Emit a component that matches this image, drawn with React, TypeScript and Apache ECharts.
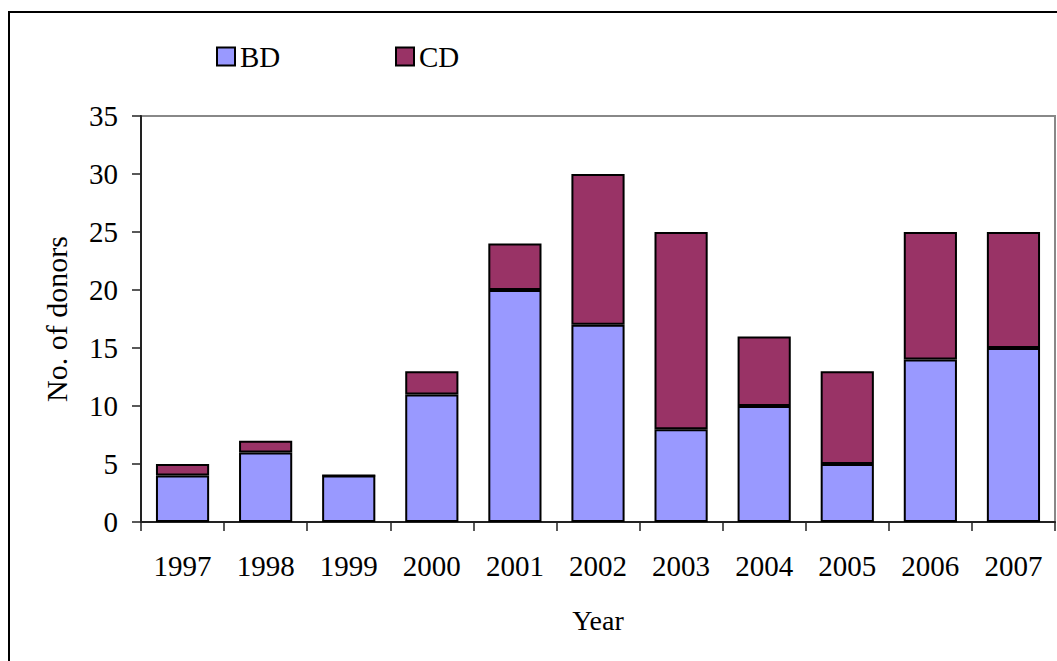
import React, { useEffect, useRef } from "react";
import * as echarts from "echarts";

const years = ["1997", "1998", "1999", "2000", "2001", "2002", "2003", "2004", "2005", "2006", "2007"];
const bdValues = [4, 6, 4, 11, 20, 17, 8, 10, 5, 14, 15];
const cdValues = [1, 1, 0, 2, 4, 13, 17, 6, 8, 11, 10];
const yTicks = { min: 0, max: 35, interval: 5 };

const FONT = "Liberation Serif";

export default function App() {
  const ref = useRef<HTMLDivElement>(null);
  useEffect(() => {
    if (!ref.current) return;
    const chart = echarts.init(ref.current, undefined, { renderer: "svg" });
    const barItem = (color: string) => ({
      color,
      borderColor: "#000",
      borderWidth: 2,
    });
    chart.setOption({
      animation: false,
      backgroundColor: "#fff",
      textStyle: { fontFamily: FONT, color: "#000" },
      graphic: [
        {
          type: "rect",
          shape: { x: 9, y: 12, width: 1200, height: 800 },
          style: { fill: "none", stroke: "#000", lineWidth: 2 },
          z: 0,
        },
      ],
      legend: [
        {
          data: ["BD"],
          left: 216,
          top: 42,
          padding: 0,
          itemWidth: 18,
          itemHeight: 18,
          icon: "rect",
          itemStyle: { borderColor: "#000", borderWidth: 2 },
          textStyle: { fontFamily: FONT, fontSize: 29, color: "#000" },
        },
        {
          data: ["CD"],
          left: 395,
          top: 42,
          padding: 0,
          itemWidth: 18,
          itemHeight: 18,
          icon: "rect",
          itemStyle: { borderColor: "#000", borderWidth: 2 },
          textStyle: { fontFamily: FONT, fontSize: 29, color: "#000" },
        },
      ],
      grid: {
        left: 141,
        top: 116,
        right: 2,
        bottom: 139,
        show: true,
        borderColor: "#888",
        borderWidth: 2,
        backgroundColor: "transparent",
      },
      xAxis: {
        type: "category",
        data: years,
        name: "Year",
        nameLocation: "middle",
        nameGap: 84,
        nameTextStyle: { fontFamily: FONT, fontSize: 28, color: "#000" },
        axisLine: { lineStyle: { color: "#222", width: 2 } },
        axisTick: { show: true, length: 9, lineStyle: { color: "#222", width: 1.5 } },
        axisLabel: { fontFamily: FONT, fontSize: 29, color: "#000", margin: 29 },
      },
      yAxis: {
        type: "value",
        min: yTicks.min,
        max: yTicks.max,
        interval: yTicks.interval,
        name: "No. of donors",
        nameLocation: "middle",
        nameGap: 70,
        nameRotate: 90,
        nameTextStyle: { fontFamily: FONT, fontSize: 30, color: "#000" },
        axisLine: { show: true, lineStyle: { color: "#222", width: 2 } },
        axisTick: { show: true, length: 9, lineStyle: { color: "#222", width: 1.5 } },
        axisLabel: { fontFamily: FONT, fontSize: 29, color: "#000", margin: 23 },
        splitLine: { show: false },
      },
      series: [
        {
          name: "BD",
          type: "bar",
          stack: "total",
          data: bdValues,
          barCategoryGap: "36%",
          itemStyle: barItem("#9999FF"),
        },
        {
          name: "CD",
          type: "bar",
          stack: "total",
          data: cdValues,
          barCategoryGap: "36%",
          itemStyle: barItem("#993366"),
        },
      ],
    });
    return () => chart.dispose();
  }, []);
  return (
    <div
      ref={ref}
      style={{ position: "fixed", left: 0, top: 0, width: 1057, height: 661 }}
    />
  );
}
